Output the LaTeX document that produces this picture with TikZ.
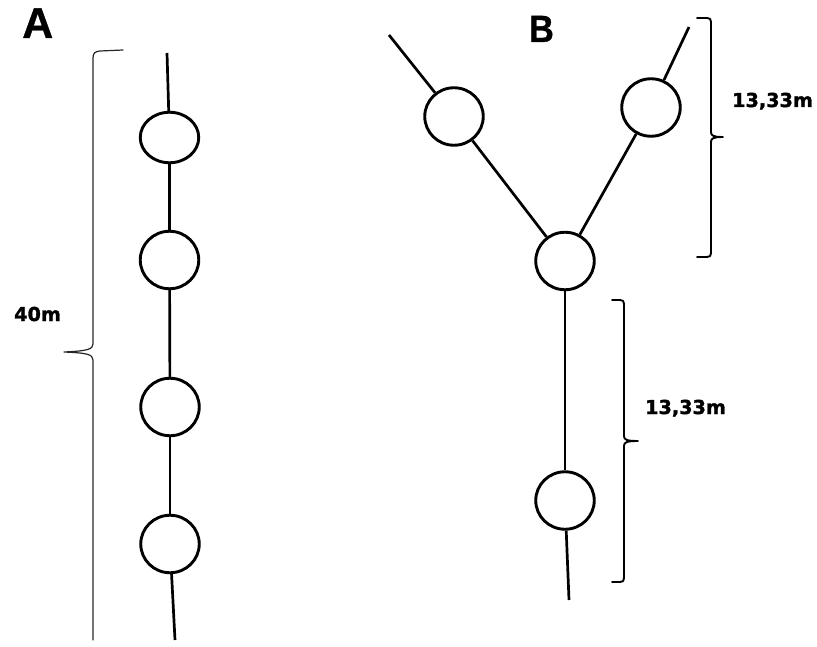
\documentclass[tikz,border=0pt]{standalone}
\usepackage{fontspec}
\setmainfont{Liberation Sans}[BoldFeatures={FakeBold=0.8}]
\newfontfamily\labelfont{DejaVu Sans}[BoldFont={DejaVu Sans Bold},BoldFeatures={FakeBold=1.6}]
\usetikzlibrary{shapes.geometric}
\begin{document}
\begin{tikzpicture}[x=1pt,y=-1pt,
  tree/.style={draw=black,line width=2.9pt,ellipse,inner sep=0pt,
    minimum width=58.5pt,minimum height=57.5pt,fill=white},
  branch/.style={draw=black,line width=2.7pt},
  bracket/.style={draw=black,line width=1.9pt,line cap=round,line join=round},
  thinbracket/.style={draw=black!85,line width=1.2pt,line cap=round,line join=round},
  panel/.style={inner sep=0pt,anchor=base west,font=\bfseries},
  dist/.style={inner sep=0pt,anchor=base west,font=\labelfont\bfseries\fontsize{19.2}{22}\selectfont}]
\useasboundingbox (0,0) rectangle (817,647);

% panel titles
\node[panel,font=\bfseries\fontsize{43}{46}\selectfont] (titleA) at (22,38) {A};
\node[panel,font=\bfseries\fontsize{38}{40}\selectfont,xscale=0.9] (titleB) at (529,42) {B};

% A: a single row of trees
\node[tree,minimum height=50.5pt] (a1) at (169.5,137.5) {};
\node[tree] (a2) at (169.5,260) {};
\node[tree] (a3) at (170,407) {};
\node[tree] (a4) at (170,544) {};
\coordinate (atop) at (167,53);
\coordinate (abot) at (175,640);
\draw[branch] (atop) -- (a1);
\draw[branch] (a1) -- (a2);
\draw[branch] (a2) -- (a3);
\draw[branch] (a3) -- (a4);
\draw[branch] (a4) -- (abot);

% B: a forked row of trees
\node[tree] (bl) at (454,116.5) {};
\node[tree] (br) at (651,107.5) {};
\node[tree] (bc) at (565,261) {};
\node[tree] (bd) at (565,500.5) {};
\coordinate (bltop) at (389,35);
\coordinate (brtop) at (689,27);
\coordinate (bbot) at (569,600);
\draw[branch] (bltop) -- (bl);
\draw[branch] (bl) -- (bc);
\draw[branch] (brtop) -- (br);
\draw[branch] (br) -- (bc);
\draw[branch] (bc) -- (bd);
\draw[branch] (bd) -- (bbot);

% braces with distances
\coordinate (lbtip) at (64,352);
\draw[thinbracket] (123,50) -- (100,51) .. controls (95,51.5) and (93,53) .. (93,58)
  -- (93,344) .. controls (93,349) and (88,351) .. (lbtip)
  .. controls (86,353) and (93,354) .. (93,360) -- (93,640);
\node[dist] (d40) at (14,321) {40m};

\coordinate (rbtip) at (723,137);
\draw[bracket] (697,18) -- (707,18) .. controls (710,18) and (711,19) .. (711,22)
  -- (711,132) .. controls (711,135.5) and (713,137) .. (rbtip)
  .. controls (713,137) and (711,138.5) .. (711,142)
  -- (711,253) .. controls (711,256) and (710,257) .. (707,257) -- (697,257);
\node[dist] (d13a) at (732,107) {13,33m};

\coordinate (bbtip) at (638,441);
\draw[bracket] (612,300) -- (620,300) .. controls (623,300) and (624,301) .. (624,304)
  -- (624,436) .. controls (624,439.5) and (626,441) .. (bbtip)
  .. controls (626,441) and (624,442.5) .. (624,446)
  -- (624,578) .. controls (624,581) and (623,582) .. (620,582) -- (612,582);
\node[dist] (d13b) at (645,414) {13,33m};
\end{tikzpicture}
\end{document}
